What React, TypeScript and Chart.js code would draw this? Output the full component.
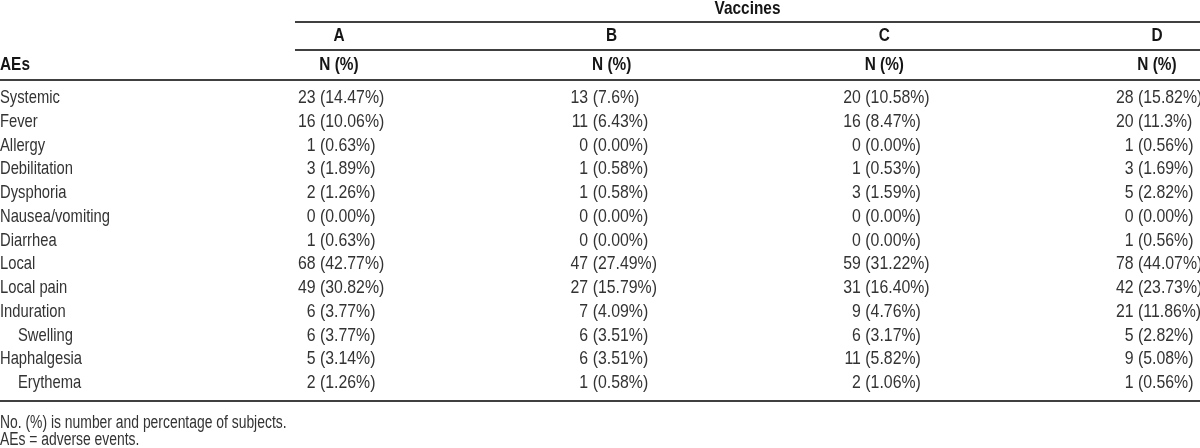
import React, { useEffect, useRef } from "react";
import { Chart, registerables } from "chart.js";

Chart.register(...registerables);

// ---- data ----
const aeLabels = [
  "Systemic",
  "Fever",
  "Allergy",
  "Debilitation",
  "Dysphoria",
  "Nausea/vomiting",
  "Diarrhea",
  "Local",
  "Local pain",
  "Induration",
  "Swelling",
  "Haphalgesia",
  "Erythema",
];
const aeIndent = [0, 0, 0, 0, 0, 0, 0, 0, 0, 0, 1, 0, 1];

const vaccineNames = ["A", "B", "C", "D"];

const countsA = [23, 16, 1, 3, 2, 0, 1, 68, 49, 6, 6, 5, 2];
const pctA = ["14.47", "10.06", "0.63", "1.89", "1.26", "0.00", "0.63", "42.77", "30.82", "3.77", "3.77", "3.14", "1.26"];

const countsB = [13, 11, 0, 1, 1, 0, 0, 47, 27, 7, 6, 6, 1];
const pctB = ["7.6", "6.43", "0.00", "0.58", "0.58", "0.00", "0.00", "27.49", "15.79", "4.09", "3.51", "3.51", "0.58"];

const countsC = [20, 16, 0, 1, 3, 0, 0, 59, 31, 9, 6, 11, 2];
const pctC = ["10.58", "8.47", "0.00", "0.53", "1.59", "0.00", "0.00", "31.22", "16.40", "4.76", "3.17", "5.82", "1.06"];

const countsD = [28, 20, 1, 3, 5, 0, 1, 78, 42, 21, 5, 9, 1];
const pctD = ["15.82", "11.3", "0.56", "1.69", "2.82", "0.00", "0.56", "44.07", "23.73", "11.86", "2.82", "5.08", "0.56"];

const groupTitle = "Vaccines";
const stubTitle = "AEs";
const subHeader = "N (%)";
const footnotes = ["No. (%) is number and percentage of subjects.", "AEs = adverse events."];

const allCounts = [countsA, countsB, countsC, countsD];
const allPcts = [pctA, pctB, pctC, pctD];

// ---- layout (scale space) ----
const X_MIN = -0.2433;
const X_MAX = 4.1577;
const Y_MIN = -4.1263;
const Y_MAX = 14.7369;
const SPAN_START_X = 0.8386;
const Y_GROUP = -3.768;
const Y_LETTERS = -2.632;
const Y_SUB = -1.411;
const Y_LINE_TOP = -3.2;
const Y_LINE_MID = -2.021;
const Y_LINE_HEAD = -0.758;
const Y_LINE_BOTTOM = 12.758;
const Y_FOOT = [13.684, 14.42];

const FONT = '"Liberation Sans", Arial, Helvetica, sans-serif';
const SX_LABEL = 0.777;
const SX_NUM = 0.834;
const SX_BOLD = 0.81;
const SX_FOOT = 0.772;

function drawText(
  ctx: CanvasRenderingContext2D,
  text: string,
  x: number,
  y: number,
  align: CanvasTextAlign,
  sx: number
) {
  ctx.save();
  ctx.translate(x, y);
  ctx.scale(sx, 1);
  ctx.textAlign = align;
  ctx.fillText(text, 0, 0);
  ctx.restore();
}

const tablePlugin = {
  id: "tableText",
  afterDatasetsDraw(chart: any) {
    const ctx: CanvasRenderingContext2D = chart.ctx;
    const xs = chart.scales.x;
    const ys = chart.scales.y;
    const { left, right } = chart.chartArea;
    ctx.save();

    // rules
    ctx.strokeStyle = "#404040";
    ctx.lineWidth = 2;
    const hline = (x0: number, x1: number, yv: number) => {
      const y = Math.round(ys.getPixelForValue(yv));
      ctx.beginPath();
      ctx.moveTo(x0, y);
      ctx.lineTo(x1, y);
      ctx.stroke();
    };
    const spanStart = xs.getPixelForValue(SPAN_START_X);
    hline(spanStart, right, Y_LINE_TOP);
    hline(spanStart, right, Y_LINE_MID);
    hline(left, right, Y_LINE_HEAD);
    hline(left, right, Y_LINE_BOTTOM);

    ctx.textBaseline = "middle";

    // headers
    ctx.fillStyle = "#151515";
    ctx.font = `bold 19px ${FONT}`;
    drawText(ctx, groupTitle, (spanStart + right) / 2, ys.getPixelForValue(Y_GROUP), "center", SX_BOLD);
    vaccineNames.forEach((name, ci) => {
      const x = xs.getPixelForValue(ci + 1);
      drawText(ctx, name, x, ys.getPixelForValue(Y_LETTERS), "center", SX_BOLD);
      drawText(ctx, subHeader, x, ys.getPixelForValue(Y_SUB), "center", SX_BOLD);
    });
    drawText(ctx, stubTitle, left, ys.getPixelForValue(Y_SUB), "left", SX_BOLD);

    // body
    ctx.fillStyle = "#333333";
    ctx.font = `19px ${FONT}`;
    const meta0 = chart.getDatasetMeta(0);
    meta0.data.forEach((el: any, ri: number) => {
      drawText(ctx, aeLabels[ri], left + aeIndent[ri] * 18, el.y, "left", SX_LABEL);
    });
    chart.data.datasets.forEach((_: any, ci: number) => {
      const meta = chart.getDatasetMeta(ci);
      meta.data.forEach((el: any, ri: number) => {
        const paren = el.x - 19;
        drawText(ctx, String(allCounts[ci][ri]), paren - 4.5, el.y, "right", SX_NUM);
        drawText(ctx, `(${allPcts[ci][ri]}%)`, paren, el.y, "left", SX_NUM);
      });
    });

    // footnotes
    ctx.fillStyle = "#333333";
    ctx.font = `18px ${FONT}`;
    footnotes.forEach((t, i) => drawText(ctx, t, left, ys.getPixelForValue(Y_FOOT[i]), "left", SX_FOOT));

    ctx.restore();
  },
};

export default function App() {
  const ref = useRef<HTMLCanvasElement | null>(null);
  useEffect(() => {
    document.body.style.margin = "0";
    const canvas = ref.current;
    if (!canvas) return;
    const chart = new Chart(canvas, {
      type: "scatter",
      data: {
        datasets: vaccineNames.map((name, ci) => ({
          label: name,
          data: aeLabels.map((_, ri) => ({ x: ci + 1, y: ri })),
          pointRadius: 0,
          pointHoverRadius: 0,
          showLine: false,
        })),
      },
      options: {
        responsive: false,
        animation: false,
        events: [],
        layout: { padding: 0 },
        plugins: { legend: { display: false }, tooltip: { enabled: false } },
        scales: {
          x: { type: "linear", display: false, min: X_MIN, max: X_MAX },
          y: { type: "linear", display: false, reverse: true, min: Y_MIN, max: Y_MAX },
        },
      },
      plugins: [tablePlugin],
    });
    return () => chart.destroy();
  }, []);
  return (
    <div style={{ width: 1200, height: 448, background: "#fff" }}>
      <canvas ref={ref} width={1200} height={448} style={{ display: "block" }} />
    </div>
  );
}
